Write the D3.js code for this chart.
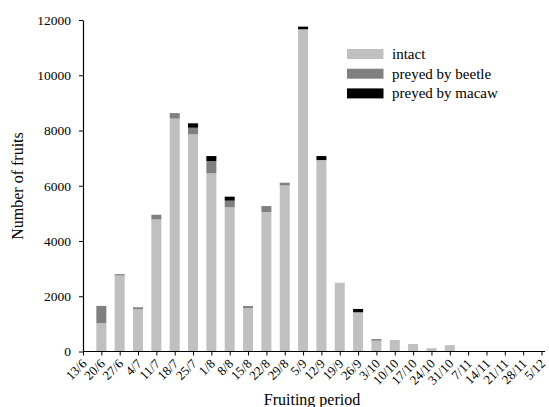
<!DOCTYPE html>
<html>
<head>
<meta charset="utf-8">
<script src="https://cdn.jsdelivr.net/npm/d3@7"></script>
<style>
  html, body { margin: 0; padding: 0; background: #fff; }
  svg { display: block; }
  svg text { font-family: "Liberation Serif", "Times New Roman", serif !important; fill: #000; }
</style>
</head>
<body>
<svg id="chart" width="549" height="407"></svg>
<script>
const dates = ["13/6","20/6","27/6","4/7","11/7","18/7","25/7","1/8","8/8","15/8","22/8","29/8","5/9","12/9","19/9","26/9","3/10","10/10","17/10","24/10","31/10","7/11","14/11","21/11","28/11","5/12"];
const intact = [0,1020,2750,1530,4780,8430,7860,6450,5220,1570,5050,6010,11650,6930,2490,1420,390,415,270,120,230,0,0,0,0,0];
const beetle = [0,630,50,70,170,200,240,445,240,75,215,100,20,0,0,0,60,0,0,0,0,0,0,0,0,0];
const macaw  = [0,0,0,0,0,0,160,180,145,0,0,0,90,145,0,120,0,0,0,0,0,0,0,0,0,0];
const seriesNames = ["intact","preyed by beetle","preyed by macaw"];
const seriesColors = ["#c0c0c0","#808080","#000000"];
const yTicks = [0,2000,4000,6000,8000,10000,12000];

const svg = d3.select("#chart");
const x = d3.scalePoint().domain(dates).range([83, 541.5]);
const y = d3.scaleLinear().domain([0, 12000]).range([351.5, 20]);

const rows = dates.map((d, i) => ({date: d, intact: intact[i], beetle: beetle[i], macaw: macaw[i]}));
const stack = d3.stack().keys(["intact","beetle","macaw"])(rows);

const barW = 10;
svg.append("g").selectAll("g").data(stack).join("g")
  .attr("fill", (d, i) => seriesColors[i])
  .selectAll("rect").data(d => d.filter(p => p[1] > p[0])).join("rect")
  .attr("x", d => x(d.data.date) - barW / 2)
  .attr("width", barW)
  .attr("y", d => y(d[1]))
  .attr("height", d => y(d[0]) - y(d[1]));

// Y axis
const yAxis = svg.append("g").attr("transform", "translate(83,0)")
  .call(d3.axisLeft(y).tickValues(yTicks).tickFormat(d3.format("d")).tickSize(4).tickSizeOuter(0).tickPadding(8));
yAxis.select(".domain").attr("stroke", "#000").attr("stroke-width", 1.2);
yAxis.selectAll(".tick line").attr("stroke", "#000");
yAxis.selectAll("text").style("font-size", "13.5px");

// X axis
const xAxis = svg.append("g").attr("transform", "translate(0,351.5)")
  .call(d3.axisBottom(x).tickSize(4).tickSizeOuter(0));
xAxis.select(".domain").remove();
xAxis.append("line").attr("x1", 83).attr("x2", 545).attr("y1", 0).attr("y2", 0)
  .attr("stroke", "#000").attr("stroke-width", 1.2);
xAxis.selectAll(".tick line").attr("stroke", "#000");
xAxis.selectAll(".tick text")
  .style("font-size", "13px")
  .attr("text-anchor", "end")
  .attr("y", 0).attr("dy", 0)
  .attr("transform", "translate(4,13) rotate(-45)");

// Axis titles
svg.append("text").attr("x", 312).attr("y", 405).attr("text-anchor", "middle")
  .style("font-size", "16px").text("Fruiting period");
svg.append("text").attr("transform", "translate(23,186) rotate(-90)").attr("text-anchor", "middle")
  .style("font-size", "16px").text("Number of fruits");

// Legend
const legend = svg.append("g");
seriesNames.forEach((name, i) => {
  legend.append("rect").attr("x", 347).attr("y", 49 + i * 19.7).attr("width", 36.5).attr("height", 10)
    .attr("fill", seriesColors[i]);
  legend.append("text").attr("x", 392).attr("y", 59 + i * 19.7).style("font-size", "15px").text(name);
});
</script>
</body>
</html>
